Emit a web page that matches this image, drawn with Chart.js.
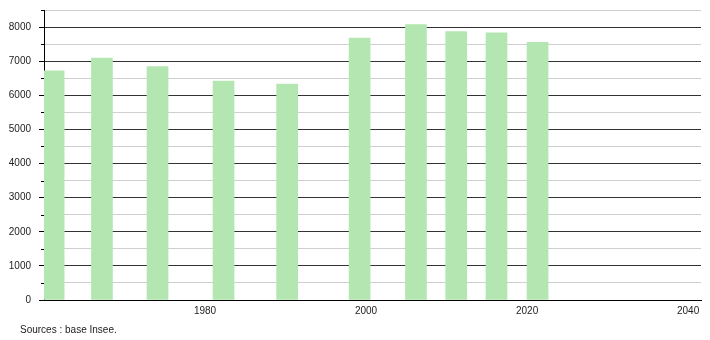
<!DOCTYPE html>
<html>
<head>
<meta charset="utf-8">
<script src="https://cdn.jsdelivr.net/npm/chart.js@4/dist/chart.umd.min.js"></script>
<style>
  html, body { margin: 0; padding: 0; background: #fff; }
  #wrap { position: relative; width: 710px; height: 340px; }
  #source {
    position: absolute; left: 20px; top: 324px;
    font: 10px "Liberation Sans", Arial, sans-serif; color: #222;
  }
</style>
</head>
<body>
<div id="wrap">
  <canvas id="chart" width="710" height="340"></canvas>
  <div id="source">Sources : base Insee.</div>
</div>
<script>
// bar positions on the year axis
const years = [1961.2, 1967.2, 1974.1, 1982.3, 1990.2, 1999.2, 2006.2, 2011.2, 2016.2, 2021.3];
const population = [6720, 7090, 6840, 6420, 6330, 7680, 8070, 7870, 7830, 7550];
const xTicks = [1980, 2000, 2020, 2040];

const FONT = "'Liberation Sans', Arial, sans-serif";
const isMajor = (v) => v % 1000 === 0;

const minorTicks = {
  id: "minorTicks",
  afterDraw(chart) {
    const y = chart.scales.y;
    const c = chart.ctx;
    c.save();
    c.strokeStyle = "#000";
    c.lineWidth = 1;
    y.ticks.forEach((t) => {
      if (isMajor(t.value)) return;
      const py = Math.round(y.getPixelForValue(t.value)) + 0.5;
      c.beginPath();
      c.moveTo(y.right - 3, py);
      c.lineTo(y.right, py);
      c.stroke();
    });
    c.restore();
  },
};

new Chart(document.getElementById("chart"), {
  type: "bar",
  data: {
    datasets: [{
      data: years.map((yr, i) => ({ x: yr, y: population[i] })),
      backgroundColor: "#b3e6b1",
      borderWidth: 0,
      barThickness: 21,
    }],
  },
  options: {
    responsive: false,
    animation: false,
    layout: { padding: { top: 10, right: 9, left: 0, bottom: 0 } },
    plugins: { legend: { display: false }, tooltip: { enabled: false } },
    scales: {
      x: {
        type: "linear",
        offset: false,
        min: 1960,
        max: 2041.6,
        afterBuildTicks: (s) => { s.ticks = xTicks.map((v) => ({ value: v })); },
        afterFit: (s) => { s.height = 40; s.paddingLeft = 0; s.paddingRight = 0; },
        grid: { display: false, drawTicks: false },
        border: { display: true, color: "#000", width: 1 },
        ticks: {
          color: "#222",
          padding: 5,
          maxRotation: 0,
          font: { family: FONT, size: 10 },
          callback: (v) => String(v),
        },
      },
      y: {
        min: 0,
        max: 8500,
        afterFit: (s) => { s.width = 44; s.paddingTop = 0; s.paddingBottom = 0; },
        border: { display: true, color: "#000", width: 1 },
        grid: {
          color: (ctx) => (isMajor(ctx.tick.value) ? "#333" : "#cfcfcf"),
          tickColor: (ctx) => (isMajor(ctx.tick.value) ? "#000" : "rgba(0,0,0,0)"),
          tickLength: 5,
        },
        ticks: {
          stepSize: 500,
          color: "#222",
          padding: 8,
          font: { family: FONT, size: 10 },
          callback: (v) => (isMajor(v) ? String(v) : ""),
        },
      },
    },
  },
  plugins: [minorTicks],
});
</script>
</body>
</html>
